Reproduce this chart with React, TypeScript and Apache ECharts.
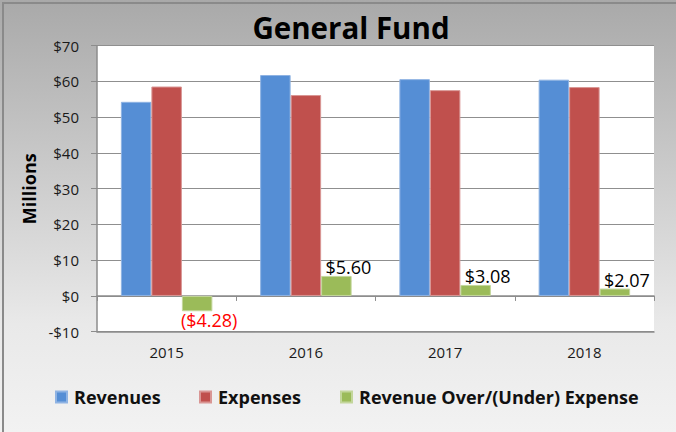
import React, { useEffect, useRef } from "react";
import * as echarts from "echarts";

const categories = ["2015", "2016", "2017", "2018"];
const revenues = [54.3, 61.8, 60.65, 60.5];
const expenses = [58.58, 56.2, 57.57, 58.43];
const overUnder = [-4.28, 5.6, 3.08, 2.07];
const yTicks = { min: -10, max: 70, interval: 10 };
const seriesNames = ["Revenues", "Expenses", "Revenue Over/(Under) Expense"];
const colors = ["#558ED5", "#C0504D", "#9BBB59"];
const borders = ["#8fb3e3", "#d99694", "#c3d69b"];

const FONT = "'Open Sans', Lato, sans-serif";

const fmtMoney = (v: number) =>
  v < 0 ? "($" + Math.abs(v).toFixed(2) + ")" : "$" + v.toFixed(2);

export default function App() {
  const ref = useRef<HTMLDivElement>(null);
  useEffect(() => {
    document.body.style.margin = "0";
    if (!ref.current) return;
    const chart = echarts.init(ref.current, null, { renderer: "svg" });
    const legendLefts = [55, 199, 340];
    chart.setOption({
      animation: false,
      backgroundColor: {
        type: "linear",
        x: 0,
        y: 0,
        x2: 0,
        y2: 1,
        colorStops: [
          { offset: 0, color: "#a9a9a9" },
          { offset: 0.75, color: "#e9e9e9" },
          { offset: 1, color: "#f2f2f2" },
        ],
      },
      title: {
        text: "General Fund",
        left: 346,
        top: 7,
        textAlign: "center",
        textStyle: { fontFamily: FONT, fontSize: 29.5, fontWeight: "bold", color: "#000" },
      },
      graphic: [
        {
          type: "rect",
          shape: { x: 3, y: 3, width: 720, height: 480 },
          style: { fill: "none", stroke: "#8a8a8a", lineWidth: 2 },
          silent: true,
        },
      ],
      legend: seriesNames.map((n, i) => ({
        data: [n],
        left: legendLefts[i],
        top: 388,
        padding: 0,
        icon: "rect",
        itemWidth: 11,
        itemHeight: 11,
        itemGap: 7,
        textStyle: { fontFamily: FONT, fontSize: 18, fontWeight: "bold", color: "#111", padding: [0, 0, 0, 2] },
        selectedMode: false,
      })),
      grid: {
        left: 97,
        right: 22,
        top: 45.7,
        bottom: 100.3,
        show: true,
        backgroundColor: "#ffffff",
        borderWidth: 0,
        containLabel: false,
      },
      xAxis: [
        {
          type: "category",
          data: categories,
          position: "bottom",
          axisLine: { onZero: false, show: true, lineStyle: { color: "#8c8c8c", width: 1.5 } },
          axisTick: { show: false },
          axisLabel: { fontFamily: FONT, fontSize: 15, color: "#1a1a1a", margin: 13 },
        },
        {
          type: "category",
          data: categories,
          position: "top",
          axisLine: { onZero: true, show: true, lineStyle: { color: "#8c8c8c", width: 1.5 } },
          axisTick: { show: true, inside: true, length: 5, lineStyle: { color: "#8c8c8c" } },
          axisLabel: { show: false },
        },
      ],
      yAxis: {
        type: "value",
        min: yTicks.min,
        max: yTicks.max,
        interval: yTicks.interval,
        axisLine: { show: true, lineStyle: { color: "#8c8c8c", width: 1.5 } },
        axisTick: { show: true, length: 6, lineStyle: { color: "#8c8c8c" } },
        axisLabel: {
          fontFamily: FONT,
          fontSize: 15,
          color: "#1a1a1a",
          margin: 18,
          formatter: (v: number) => (v < 0 ? "-$" + Math.abs(v) : "$" + v),
        },
        splitLine: { show: true, lineStyle: { color: "#8f8f8f", width: 1.2 } },
        name: "Millions",
        nameLocation: "middle",
        nameGap: 58,
        nameTextStyle: { fontFamily: FONT, fontSize: 18, fontWeight: "bold", color: "#000" },
      },
      series: [
        {
          name: seriesNames[0],
          type: "bar",
          data: revenues,
          barWidth: 30.5,
          barGap: "0%",
          itemStyle: { color: colors[0], borderColor: borders[0], borderWidth: 1 },
        },
        {
          name: seriesNames[1],
          type: "bar",
          data: expenses,
          barWidth: 30.5,
          barGap: "0%",
          itemStyle: { color: colors[1], borderColor: borders[1], borderWidth: 1 },
        },
        {
          name: seriesNames[2],
          type: "bar",
          data: overUnder.map((v) => ({
            value: v,
            label: {
              show: true,
              position: v < 0 ? "bottom" : "top",
              distance: 0,
              offset: [12, 0],
              formatter: () => fmtMoney(v),
              fontFamily: FONT,
              fontSize: 18,
              color: v < 0 ? "#ff0000" : "#000",
            },
          })),
          barWidth: 30.5,
          barGap: "0%",
          itemStyle: { color: colors[2], borderColor: borders[2], borderWidth: 1 },
        },
      ],
    });
    return () => chart.dispose();
  }, []);
  return <div ref={ref} style={{ width: 676, height: 432 }} />;
}
